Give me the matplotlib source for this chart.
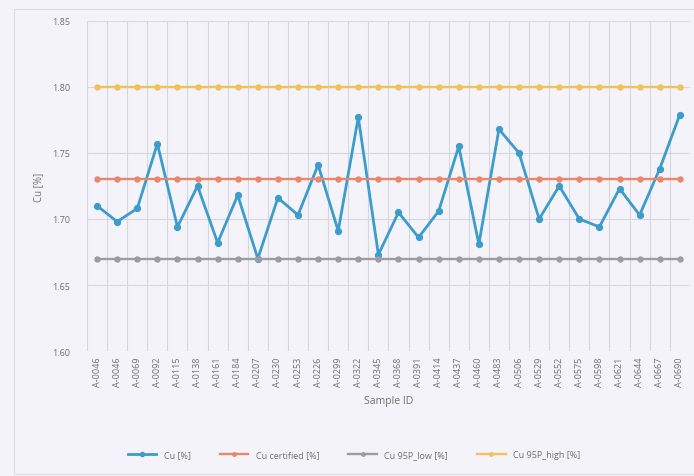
import matplotlib
matplotlib.use("Agg")
import matplotlib.pyplot as plt
from matplotlib.ticker import MultipleLocator, FixedLocator

plt.rcParams['font.family'] = ['Open Sans', 'DejaVu Sans']

sample_ids = ["A-0046", "A-0046", "A-0069", "A-0092", "A-0115", "A-0138", "A-0161",
              "A-0184", "A-0207", "A-0230", "A-0253", "A-0226", "A-0299", "A-0322",
              "A-0345", "A-0368", "A-0391", "A-0414", "A-0437", "A-0460", "A-0483",
              "A-0506", "A-0529", "A-0552", "A-0575", "A-0598", "A-0621", "A-0644",
              "A-0667", "A-0690"]
cu = [1.710, 1.698, 1.708, 1.757, 1.694, 1.725, 1.682, 1.718, 1.670, 1.716,
      1.703, 1.741, 1.691, 1.777, 1.673, 1.705, 1.686, 1.706, 1.755, 1.681,
      1.768, 1.750, 1.700, 1.725, 1.700, 1.694, 1.723, 1.703, 1.738, 1.779]
cu_certified = [1.730] * 30
cu_low = [1.670] * 30
cu_high = [1.800] * 30

bg = "#f4f3f9"
fig = plt.figure(figsize=(6.94, 4.77), dpi=100, facecolor=bg)
ax = fig.add_axes([0.1254, 0.262, 0.8686, 0.692], facecolor=bg)

x = list(range(len(sample_ids)))
series = [
    (cu, "Cu [%]", "#3c9ccc", 2.0, 4.2),
    (cu_certified, "Cu certified [%]", "#e8876c", 1.7, 3.6),
    (cu_low, "Cu 95P_low [%]", "#9c9ca4", 1.7, 3.6),
    (cu_high, "Cu 95P_high [%]", "#f0c25c", 1.7, 3.6),
]
for vals, lab, col, lw, ms in series:
    ax.plot(x, vals, color=col, lw=lw, marker="o", ms=ms, label=lab, zorder=3)

ax.set_xlim(-0.5, len(x) - 0.5)
ax.set_ylim(1.60, 1.85)
ax.yaxis.set_major_locator(MultipleLocator(0.05))
ax.yaxis.set_major_formatter(matplotlib.ticker.FormatStrFormatter("%.2f"))
ax.set_xticks(x)
ax.set_xticklabels(sample_ids, rotation=90, fontsize=6.5, color="#707070")
ax.xaxis.set_minor_locator(FixedLocator([i - 0.5 for i in range(len(x) + 1)]))
ax.tick_params(axis="x", which="both", length=0, pad=4)
ax.tick_params(axis="y", length=0, labelsize=6.5, labelcolor="#707070", pad=12)
ax.grid(axis="y", which="major", color="#d6d6de", lw=0.8)
ax.grid(axis="x", which="minor", color="#d6d6de", lw=0.8)
ax.set_axisbelow(True)
for s in ax.spines.values():
    s.set_visible(False)

ax.set_ylabel("Cu [%]", fontsize=7, color="#707070", labelpad=6)
ax.set_xlabel("Sample ID", fontsize=7.5, color="#707070", labelpad=6)

fig.legend(loc="center", bbox_to_anchor=(0.51, 0.045), ncol=4, frameon=False,
           fontsize=6.5, labelcolor="#707070", handlelength=3.2, columnspacing=3.2,
           markerscale=0.7)

border = plt.Rectangle((0.02, 0.005), 0.99, 0.975, transform=fig.transFigure,
                       fill=False, edgecolor="#dcdce2", lw=0.8)
fig.add_artist(border)

fig.savefig("out.png", dpi=100, facecolor=bg)
